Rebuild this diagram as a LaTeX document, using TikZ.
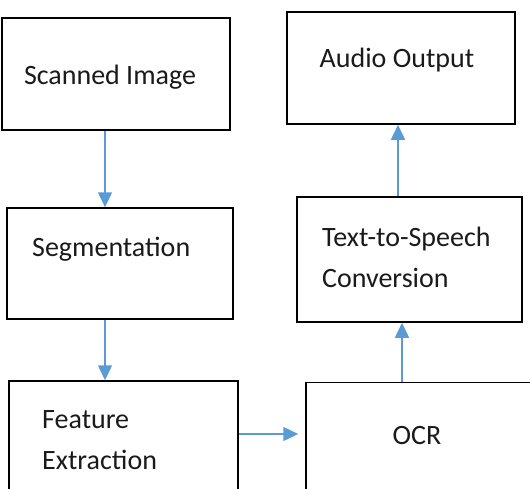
\documentclass[tikz,border=0pt]{standalone}
\usepackage{fontspec}
\setmainfont{Carlito}
\usetikzlibrary{arrows.meta}
\definecolor{arrblue}{HTML}{5B9BD5}
\definecolor{txt}{HTML}{1A1A1A}
\begin{document}
\begin{tikzpicture}[x=1pt,y=-1pt,
  box/.style={draw=black, line width=1.5pt, minimum width=#1, inner sep=0pt},
  lbl/.style={text=txt, font=\fontsize{28}{41}\selectfont, inner sep=0pt},
  arr/.style={draw=arrblue, line width=1.5pt, -{Triangle[length=15pt,width=14pt]}}]
\useasboundingbox (0,0) rectangle (530,488);
\clip (0,0) rectangle (530,488);
\node (scan)  [box=228pt, minimum height=112pt] at (116,74) {};
\node (seg)   [box=226pt, minimum height=111pt] at (120,263.5) {};
\node (feat)  [box=229pt, minimum height=118pt] at (123.5,440) {};
\node (ocr)   [box=260pt, minimum height=117pt] at (436,441) {};
\node (tts)   [box=225pt, minimum height=125pt] at (409.5,259.5) {};
\node (audio) [box=228pt, minimum height=112pt] at (401,68) {};
\node (tscan)  [lbl] at (110,77) {Scanned Image};
\node (tseg)   [lbl, anchor=west] at (32,249) {Segmentation};
\node (tfeat)  [lbl, anchor=west, align=left] at (42,440) {Feature\\Extraction};
\node (tocr)   [lbl] at (417,436) {OCR};
\node (ttts)   [lbl, anchor=west, align=left] at (322,257) {Text-to-Speech\\Conversion};
\node (taudio) [lbl] at (397,60) {Audio Output};
\draw[arr] ([xshift=-11pt]scan.south) -- ([xshift=-15pt]seg.north);
\draw[arr] ([xshift=-15pt]seg.south) -- ([xshift=-18.5pt]feat.north);
\draw[arr, shorten >=7pt] ([yshift=6pt]feat.east) -- ([yshift=7pt]ocr.west);
\draw[arr] ([xshift=-34pt]ocr.north) -- ([xshift=-7.5pt]tts.south);
\draw[arr] ([xshift=-11.5pt]tts.north) -- ([xshift=-3pt]audio.south);
\end{tikzpicture}
\end{document}
